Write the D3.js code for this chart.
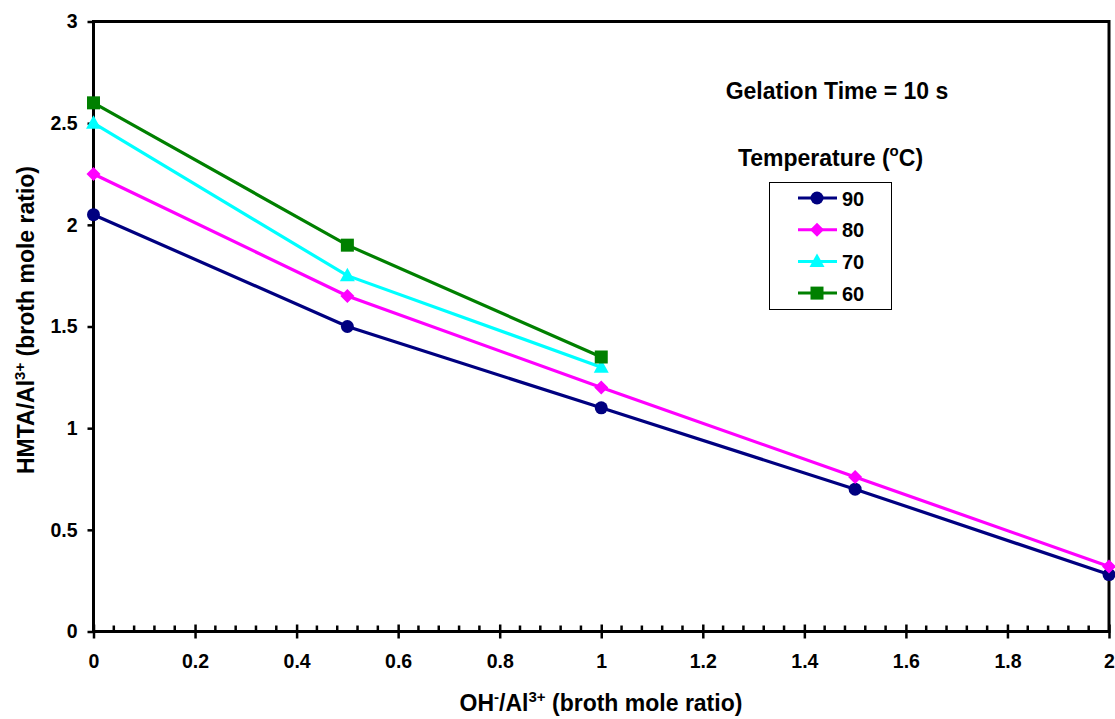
<!DOCTYPE html>
<html><head><meta charset="utf-8">
<script src="https://cdn.jsdelivr.net/npm/d3@7"></script>
<style>body{margin:0;background:#fff}svg{display:block;font-family:"Liberation Sans",Arial,sans-serif;font-weight:bold}</style>
</head><body><svg id="c" width="1115" height="719"></svg>
<script>
const xTicks=[0,0.2,0.4,0.6,0.8,1,1.2,1.4,1.6,1.8,2];
const yTicks=[0,0.5,1,1.5,2,2.5,3];
const seriesNames=["90","80","70","60"];
const colors=["#000080","#FF00FF","#00FFFF","#008000"];
const markers=["circle","diamond","triangle","square"];
const x90=[0,0.5,1,1.5,2], y90=[2.05,1.5,1.1,0.7,0.28];
const x80=[0,0.5,1,1.5,2], y80=[2.25,1.65,1.2,0.76,0.32];
const x70=[0,0.5,1], y70=[2.5,1.75,1.3];
const x60=[0,0.5,1], y60=[2.6,1.9,1.35];
const series=[[x90,y90],[x80,y80],[x70,y70],[x60,y60]];

const FF="Liberation Sans, Arial, sans-serif";
const svg=d3.select("#c");
const L=93.5,R=1109,T=21.5,B=631.5;
const x=d3.scaleLinear().domain([0,2]).range([L,R]);
const y=d3.scaleLinear().domain([0,3]).range([B,T]);

// frame
svg.append("rect").attr("x",L).attr("y",T).attr("width",R-L).attr("height",B-T).attr("fill","none").attr("stroke","#000").attr("stroke-width",3);

// x minor ticks (inside)
const minor=d3.range(0,2.0001,0.04).filter(v=>Math.abs(v/0.2-Math.round(v/0.2))>1e-6);
svg.append("g").selectAll("line").data(minor).join("line")
 .attr("x1",d=>x(d)).attr("x2",d=>x(d)).attr("y1",B).attr("y2",B-6).attr("stroke","#000").attr("stroke-width",2.5);
// x axis major
const xa=svg.append("g").attr("transform",`translate(0,${B})`).call(d3.axisBottom(x).tickValues(xTicks).tickFormat(d3.format("~g")).tickSize(7).tickPadding(16));
xa.attr("font-size",null).attr("font-family",null);
xa.select(".domain").remove();
xa.selectAll(".tick line").attr("y1",-7).attr("stroke-width",2.5);
xa.selectAll("text").style("font-size","19.5px").style("font-weight","bold").style("font-family",FF);
// y axis
const ya=svg.append("g").attr("transform",`translate(${L},0)`).call(d3.axisLeft(y).tickValues(yTicks).tickFormat(d3.format("~g")).tickSize(6).tickPadding(10));
ya.attr("font-size",null).attr("font-family",null);
ya.select(".domain").remove();
ya.selectAll(".tick line").attr("stroke-width",2.5);
ya.selectAll("text").style("font-size","19.5px").style("font-weight","bold").style("font-family",FF);

function marker(g,type,cx,cy,col){
  if(type==="circle") g.append("circle").attr("cx",cx).attr("cy",cy).attr("r",6.5).attr("fill",col);
  else if(type==="diamond") g.append("path").attr("d",`M${cx},${cy-7}L${cx+7},${cy}L${cx},${cy+7}L${cx-7},${cy}Z`).attr("fill",col);
  else if(type==="triangle") g.append("path").attr("d",`M${cx},${cy-8}L${cx+7.5},${cy+5.5}L${cx-7.5},${cy+5.5}Z`).attr("fill",col);
  else g.append("rect").attr("x",cx-6.5).attr("y",cy-6.5).attr("width",13).attr("height",13).attr("fill",col);
}

const line=d3.line().x(d=>x(d[0])).y(d=>y(d[1]));
series.forEach((s,i)=>{
  const pts=s[0].map((v,j)=>[v,s[1][j]]);
  const g=svg.append("g");
  g.append("path").attr("d",line(pts)).attr("fill","none").attr("stroke",colors[i]).attr("stroke-width",3.2);
  pts.forEach(p=>marker(g,markers[i],x(p[0]),y(p[1]),colors[i]));
});

// annotations
svg.append("text").attr("x",837).attr("y",99).attr("text-anchor","middle").attr("font-size",23).text("Gelation Time = 10 s");
const tt=svg.append("text").attr("x",830.5).attr("y",166).attr("text-anchor","middle").attr("font-size",23);
tt.append("tspan").text("Temperature (");
tt.append("tspan").attr("font-size",15).attr("dy",-10).text("o");
tt.append("tspan").attr("dy",10).text("C)");

// legend
svg.append("rect").attr("x",769.5).attr("y",182.5).attr("width",122).attr("height",127).attr("fill","#fff").attr("stroke","#000").attr("stroke-width",1);
seriesNames.forEach((n,i)=>{
  const ly=198+i*31.7;
  const g=svg.append("g");
  g.append("line").attr("x1",798).attr("x2",837).attr("y1",ly).attr("y2",ly).attr("stroke",colors[i]).attr("stroke-width",3);
  marker(g,markers[i],817,ly,colors[i]);
  g.append("text").attr("x",842).attr("y",ly+7.5).attr("font-size",20).text(n);
});

// axis titles
const xt=svg.append("text").attr("x",601).attr("y",711).attr("text-anchor","middle").attr("font-size",23);
xt.append("tspan").text("OH");
xt.append("tspan").attr("font-size",15).attr("dy",-9).text("-");
xt.append("tspan").attr("dy",9).text("/Al");
xt.append("tspan").attr("font-size",15).attr("dy",-9).text("3+");
xt.append("tspan").attr("dy",9).text(" (broth mole ratio)");

const yt=svg.append("text").attr("transform","translate(34,320) rotate(-90)").attr("text-anchor","middle").attr("font-size",23);
yt.append("tspan").text("HMTA/Al");
yt.append("tspan").attr("font-size",15).attr("dy",-9).text("3+");
yt.append("tspan").attr("dy",9).text(" (broth mole ratio)");
</script></body></html>
